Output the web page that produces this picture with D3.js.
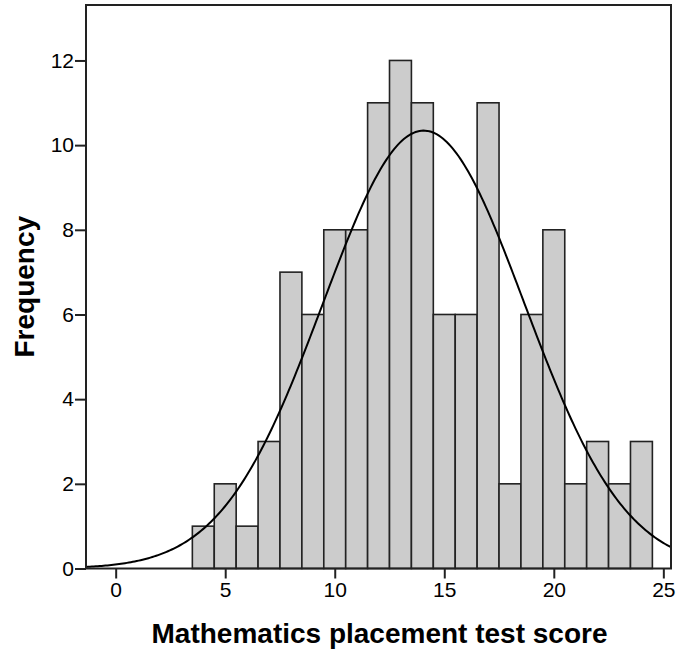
<!DOCTYPE html>
<html>
<head>
<meta charset="utf-8">
<script src="https://cdn.jsdelivr.net/npm/d3@7"></script>
<style>
  html, body { margin: 0; padding: 0; background: #fff; }
  svg { display: block; font-family: "Liberation Sans", Arial, sans-serif; }
</style>
</head>
<body>
<svg id="chart" width="677" height="651"></svg>
<script>
// Data: histogram bins (bin centers, width 1) and frequencies
const binCenters = [4, 5, 6, 7, 8, 9, 10, 11, 12, 13, 14, 15, 16, 17, 18, 19, 20, 21, 22, 23, 24];
const frequencies = [1, 2, 1, 3, 7, 6, 8, 8, 11, 12, 11, 6, 6, 11, 2, 6, 8, 2, 3, 2, 3];
const binWidth = 1;
// Fitted normal curve parameters
const curveMean = 14.06;
const curveSD = 4.59;
const curveN = 119;
// Tick labels
const xTicks = [0, 5, 10, 15, 20, 25];
const yTicks = [0, 2, 4, 6, 8, 10, 12];
const xTitle = "Mathematics placement test score";
const yTitle = "Frequency";

const svg = d3.select("#chart");
const L = 86, R = 671, T = 5, B = 568.5;

const x = d3.scaleLinear().domain([-1.355, 25.35]).range([L, R]);
const y = d3.scaleLinear().domain([0, 13.31]).range([B, T]);

const bars = binCenters.map((c, i) => ({ c, f: frequencies[i] }));

svg.append("g")
  .selectAll("rect")
  .data(bars)
  .join("rect")
  .attr("x", d => x(d.c - binWidth / 2))
  .attr("y", d => y(d.f))
  .attr("width", d => x(d.c + binWidth / 2) - x(d.c - binWidth / 2))
  .attr("height", d => y(0) - y(d.f))
  .attr("fill", "#cccccc")
  .attr("stroke", "#222")
  .attr("stroke-width", 1.6);

// Normal curve
const [x0, x1] = x.domain();
const pts = d3.range(0, 301).map(i => x0 + (x1 - x0) * i / 300);
const density = v => curveN * binWidth / (curveSD * Math.sqrt(2 * Math.PI)) *
  Math.exp(-0.5 * Math.pow((v - curveMean) / curveSD, 2));
svg.append("path")
  .datum(pts)
  .attr("fill", "none")
  .attr("stroke", "#000")
  .attr("stroke-width", 2)
  .attr("d", d3.line().x(v => x(v)).y(v => y(density(v))));

// Frame
svg.append("rect")
  .attr("x", L).attr("y", T)
  .attr("width", R - L).attr("height", B - T)
  .attr("fill", "none")
  .attr("stroke", "#222")
  .attr("stroke-width", 2);

// Axes
const xAxis = svg.append("g")
  .attr("transform", `translate(0,${B})`)
  .call(d3.axisBottom(x).tickValues(xTicks).tickSize(10).tickPadding(4).tickFormat(d3.format("d")));
const yAxis = svg.append("g")
  .attr("transform", `translate(${L},0)`)
  .call(d3.axisLeft(y).tickValues(yTicks).tickSize(11).tickPadding(1).tickFormat(d3.format("d")));
[xAxis, yAxis].forEach(g => {
  g.select(".domain").remove();
  g.selectAll(".tick line").attr("stroke", "#222").attr("stroke-width", 2);
  g.selectAll(".tick text").attr("fill", "#000").style("font-size", "21px")
    .style("font-family", "'Liberation Sans', Arial, sans-serif");
});

// Titles
svg.append("text")
  .attr("x", (L + R) / 2 + 1)
  .attr("y", 643)
  .attr("text-anchor", "middle")
  .style("font-size", "28px")
  .style("font-weight", "bold")
  .text(xTitle);

svg.append("text")
  .attr("transform", `translate(33.5,${(T + B) / 2}) rotate(-90)`)
  .attr("text-anchor", "middle")
  .style("font-size", "28px")
  .style("font-weight", "bold")
  .text(yTitle);
</script>
</body>
</html>
